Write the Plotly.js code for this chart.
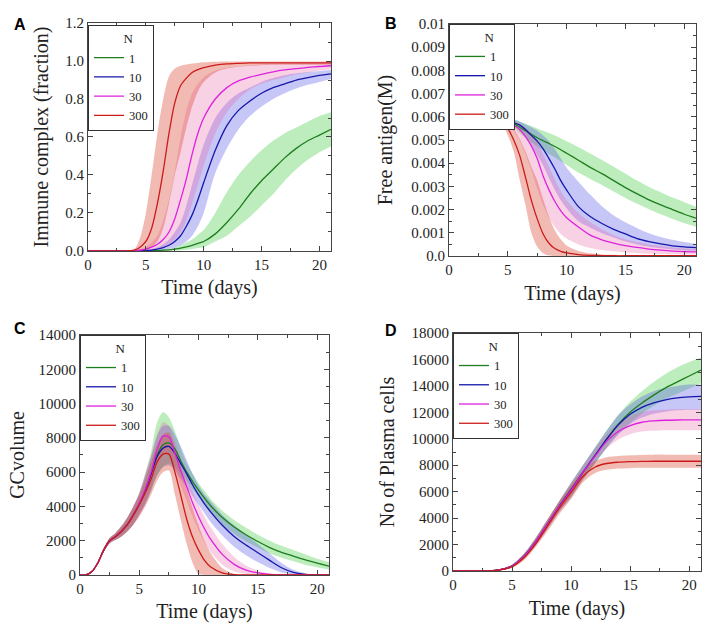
<!DOCTYPE html>
<html>
<head>
<meta charset="utf-8">
<script src="https://cdn.plot.ly/plotly-3.0.1.min.js"></script>
<style>html,body{margin:0;padding:0;background:#fff;}#chart{width:708px;height:629px;}</style>
</head>
<body>
<div id="chart"></div>
<script>
// ---------- data ----------
const N_labels = ['1', '10', '30', '300'];

// Panel A: Immune complex (fraction)
const tA = [0,1,2,3,4,4.5,5,5.5,6,6.5,7,7.5,8,8.5,9,9.5,10,11,12,13,14,15,16,17,18,19,20,21];
const A_N1 = [0,0,0,0,0,0,0.001,0.0015,0.002,0.004,0.006,0.01,0.015,0.022,0.03,0.04,0.05,0.09,0.15,0.22,0.3,0.37,0.43,0.49,0.54,0.58,0.61,0.64];
const A_N1_lo = [0,0,0,0,0,0,0,0,0,0,0.001,0.002,0.003,0.006,0.01,0.015,0.02,0.05,0.08,0.13,0.18,0.24,0.3,0.37,0.43,0.48,0.52,0.55];
const A_N1_hi = [0,0,0,0,0,0,0.002,0.003,0.005,0.007,0.01,0.018,0.03,0.045,0.06,0.085,0.11,0.2,0.31,0.4,0.47,0.53,0.58,0.62,0.65,0.68,0.71,0.73];
const A_N10 = [0,0,0,0,0.001,0.002,0.003,0.005,0.01,0.018,0.03,0.05,0.08,0.13,0.19,0.27,0.36,0.53,0.66,0.74,0.79,0.83,0.86,0.88,0.9,0.913,0.924,0.932];
const A_N10_lo = [0,0,0,0,0,0,0,0,0.002,0.005,0.01,0.018,0.03,0.05,0.08,0.13,0.2,0.41,0.54,0.64,0.71,0.76,0.8,0.83,0.855,0.875,0.89,0.905];
const A_N10_hi = [0,0,0,0,0.002,0.004,0.007,0.012,0.02,0.035,0.06,0.1,0.15,0.24,0.35,0.46,0.56,0.7,0.78,0.83,0.86,0.89,0.91,0.925,0.935,0.942,0.948,0.953];
const A_N30 = [0,0,0,0,0.002,0.005,0.01,0.02,0.035,0.06,0.1,0.17,0.27,0.38,0.51,0.62,0.7,0.8,0.86,0.895,0.915,0.93,0.943,0.953,0.96,0.966,0.971,0.975];
const A_N30_lo = [0,0,0,0,0,0,0.002,0.005,0.01,0.02,0.035,0.06,0.1,0.16,0.25,0.35,0.45,0.62,0.73,0.8,0.85,0.88,0.9,0.915,0.93,0.94,0.95,0.955];
const A_N30_hi = [0,0,0,0,0.005,0.01,0.02,0.045,0.08,0.16,0.27,0.42,0.6,0.74,0.83,0.88,0.915,0.95,0.965,0.973,0.978,0.982,0.985,0.987,0.988,0.989,0.99,0.99];
const A_N300 = [0,0,0,0,0.005,0.02,0.05,0.12,0.25,0.42,0.62,0.78,0.87,0.91,0.94,0.955,0.965,0.978,0.985,0.988,0.99,0.99,0.99,0.99,0.99,0.99,0.99,0.99];
const A_N300_lo = [0,0,0,0,0,0.002,0.005,0.02,0.05,0.12,0.25,0.4,0.52,0.65,0.76,0.84,0.89,0.94,0.96,0.97,0.975,0.978,0.98,0.98,0.98,0.98,0.98,0.98];
const A_N300_hi = [0,0,0,0,0.01,0.07,0.2,0.4,0.62,0.8,0.92,0.96,0.975,0.982,0.987,0.99,0.993,0.996,0.997,0.998,0.998,0.998,0.998,0.998,0.998,0.998,0.998,0.998];

// Panel B: Free antigen (M)
const tB = [0,1,2,3,4,4.5,5,5.5,6,6.5,7,7.5,8,8.5,9,9.5,10,11,12,13,14,15,16,17,18,19,20,21];
const B_N1 = [0.006,0.006,0.006,0.006,0.00595,0.0059,0.00585,0.00572,0.00555,0.0054,0.00525,0.0051,0.00497,0.00485,0.00472,0.00458,0.00443,0.00413,0.00382,0.00355,0.00325,0.00295,0.00268,0.00242,0.0022,0.002,0.0018,0.00163];
const B_N1_hi = [0.006,0.006,0.006,0.006,0.00599,0.00597,0.00595,0.00588,0.0058,0.0057,0.0056,0.0055,0.0054,0.0053,0.0052,0.00508,0.00495,0.0047,0.00442,0.00414,0.00385,0.00355,0.00325,0.00298,0.00275,0.00252,0.00232,0.00213];
const B_N1_lo = [0.006,0.006,0.006,0.006,0.0059,0.00582,0.00575,0.00555,0.0053,0.0051,0.0049,0.00472,0.00455,0.0044,0.00425,0.00408,0.00392,0.0036,0.00332,0.00306,0.00278,0.0025,0.00225,0.00202,0.0018,0.0016,0.00142,0.00126];
const B_N10 = [0.006,0.006,0.006,0.006,0.00597,0.00592,0.00585,0.00575,0.00565,0.00545,0.0052,0.00495,0.00462,0.0042,0.00375,0.00325,0.00284,0.00213,0.0017,0.0014,0.00115,0.00095,0.00075,0.00062,0.00052,0.00044,0.00039,0.00036];
const B_N10_hi = [0.006,0.006,0.006,0.006,0.006,0.00598,0.00595,0.00588,0.0058,0.00568,0.00555,0.0054,0.0052,0.00495,0.0046,0.0042,0.0038,0.0032,0.00265,0.00215,0.00175,0.00145,0.0012,0.00098,0.00082,0.0007,0.0006,0.00052];
const B_N10_lo = [0.006,0.006,0.006,0.006,0.00593,0.00585,0.00575,0.00562,0.00545,0.00515,0.0048,0.00435,0.0039,0.00335,0.00285,0.0024,0.00205,0.0015,0.00122,0.00098,0.0008,0.00062,0.0005,0.0004,0.00033,0.00028,0.00024,0.00022];
const B_N30 = [0.006,0.006,0.006,0.006,0.00597,0.0059,0.0058,0.00565,0.00545,0.00515,0.00475,0.0042,0.00345,0.00285,0.00235,0.00195,0.00165,0.00125,0.0009,0.0007,0.00056,0.00045,0.00037,0.0003,0.00025,0.00021,0.00019,0.00018];
const B_N30_hi = [0.006,0.006,0.006,0.006,0.006,0.00595,0.0059,0.00582,0.0057,0.00552,0.0053,0.0049,0.0044,0.00385,0.0033,0.0028,0.0024,0.00185,0.00145,0.00115,0.0009,0.00072,0.0006,0.0005,0.00043,0.00037,0.00033,0.0003];
const B_N30_lo = [0.006,0.006,0.006,0.006,0.00593,0.00582,0.00565,0.0054,0.005,0.0044,0.0037,0.0029,0.0022,0.00165,0.00125,0.00095,0.00075,0.0005,0.00035,0.00026,0.0002,0.00015,0.00012,0.0001,0.00009,0.00008,0.00007,0.00006];
const B_N300 = [0.006,0.006,0.006,0.006,0.00595,0.00585,0.0055,0.005,0.00435,0.0034,0.0024,0.0016,0.00095,0.00055,0.00032,0.0002,0.00013,0.00006,0.00003,0.00002,0.00001,0.00001,0.00001,0.00001,0.00001,0.00001,0.00001,0.00001];
const B_N300_hi = [0.006,0.006,0.006,0.006,0.006,0.00595,0.0058,0.0055,0.00505,0.0045,0.00385,0.00325,0.00245,0.0017,0.0011,0.00072,0.00045,0.00022,0.00012,0.00007,0.00005,0.00004,0.00003,0.00003,0.00003,0.00003,0.00003,0.00003];
const B_N300_lo = [0.006,0.006,0.006,0.006,0.0059,0.0057,0.0052,0.0045,0.0033,0.0022,0.001,0.0004,0.00012,0.00002,0,0,0,0,0,0,0,0,0,0,0,0,0,0];
const B_tickvals = [0,0.001,0.002,0.003,0.004,0.005,0.006,0.007,0.008,0.009,0.01];
const B_ticktext = ['0.0','0.001','0.002','0.003','0.004','0.005','0.006','0.007','0.008','0.009','0.01'];

// Panel C: GC volume
const tC = [0,0.5,1,1.5,2,2.5,3,3.5,4,4.5,5,5.5,6,6.5,7,7.5,8,8.5,9,9.5,10,10.5,11,12,13,14,15,16,17,18,19,20,21];
const C_N1 = [0,0,200,700,1450,2000,2250,2550,2950,3500,4150,4950,5950,7000,7600,7700,7350,6650,6000,5450,4950,4480,4050,3350,2800,2350,1950,1600,1320,1100,880,690,520];
const C_N1_hi = [0,0,220,750,1550,2150,2450,2850,3350,4000,4700,5900,7200,8900,9500,9200,8400,7400,6500,5900,5350,4900,4450,3750,3200,2750,2350,2000,1700,1450,1200,950,750];
const C_N1_lo = [0,0,180,650,1350,1850,2050,2250,2550,2950,3600,4200,5000,5800,6300,6500,6300,5900,5500,5000,4550,4100,3650,2950,2400,1950,1600,1250,1000,800,600,450,320];
const C_N10 = [0,0,200,700,1450,2000,2250,2550,2950,3500,4150,4900,5900,6900,7400,7500,7100,6500,5900,5250,4670,4150,3700,2900,2250,1750,1300,850,420,150,40,5,0];
const C_N10_hi = [0,0,220,750,1550,2150,2450,2850,3350,4000,4800,5800,6900,8100,8700,8700,8200,7500,6700,5900,5200,4700,4300,3500,2900,2350,1800,1250,700,300,100,20,0];
const C_N10_lo = [0,0,180,650,1350,1850,2050,2250,2550,2950,3500,4100,4900,5800,6300,6400,6100,5600,5100,4600,4100,3600,3100,2300,1650,1150,750,400,150,30,0,0,0];
const C_N30 = [0,0,200,700,1450,2000,2250,2550,2950,3500,4200,5000,6000,7300,8100,8050,7100,6100,5150,4200,3400,2700,2100,1200,620,280,120,40,10,0,0,0,0];
const C_N30_hi = [0,0,220,750,1550,2150,2450,2850,3350,4000,4800,5900,7000,8200,8900,8700,7800,6800,5800,4900,4100,3400,2800,1800,1050,550,250,100,30,0,0,0,0];
const C_N30_lo = [0,0,180,650,1350,1850,2050,2250,2550,2950,3500,4200,5000,6300,7000,7100,6200,5200,4300,3400,2600,1900,1350,600,200,60,10,0,0,0,0,0,0];
const C_N300 = [0,0,200,700,1450,2000,2250,2550,2950,3500,4100,4800,5600,6600,7050,7050,6000,4650,3250,2200,1450,850,480,120,20,0,0,0,0,0,0,0,0];
const C_N300_hi = [0,0,220,750,1550,2150,2450,2850,3350,4000,4700,5600,6600,7600,8200,8300,7500,6200,5000,3900,2900,2000,1300,400,50,0,0,0,0,0,0,0,0];
const C_N300_lo = [0,0,180,650,1350,1850,2050,2250,2550,2950,3400,4000,4700,5500,6000,6100,4700,3200,1800,700,50,0,0,0,0,0,0,0,0,0,0,0,0];

// Panel D: No of Plasma cells
const tD = [0,1,2,3,4,5,6,7,8,9,10,11,12,13,14,15,16,17,18,19,20,21];
const D_N1 = [0,0,0,10,100,380,1100,2200,3550,4900,6150,7450,8700,9950,11100,12000,12700,13300,13850,14300,14750,15200];
const D_N1_hi = [0,0,0,15,150,480,1300,2500,3900,5300,6700,8000,9300,10600,11800,12800,13600,14300,14900,15400,15800,16150];
const D_N1_lo = [0,0,0,5,60,280,900,1950,3200,4500,5600,6900,8100,9300,10400,11200,11900,12500,13000,13400,13800,14200];
const D_N10 = [0,0,0,10,100,380,1100,2200,3550,4900,6150,7450,8700,9950,11050,11850,12380,12720,12950,13100,13170,13200];
const D_N10_hi = [0,0,0,15,150,480,1300,2500,3900,5300,6700,8000,9300,10600,11800,12600,13200,13600,13850,14000,14100,14100];
const D_N10_lo = [0,0,0,5,60,280,900,1950,3200,4500,5600,6900,8100,9300,10300,11100,11600,11900,12050,12150,12200,12200];
const D_N30 = [0,0,0,10,100,380,1100,2200,3550,4900,6100,7450,8650,9800,10550,11000,11250,11350,11400,11420,11430,11430];
const D_N30_hi = [0,0,0,15,150,480,1300,2500,3900,5300,6600,7950,9200,10350,11200,11700,12000,12150,12200,12230,12250,12250];
const D_N30_lo = [0,0,0,5,60,280,900,1950,3200,4500,5600,7000,8200,9250,9950,10350,10550,10600,10650,10650,10650,10650];
const D_N300 = [0,0,0,8,80,330,1000,2050,3400,4750,5950,7150,7850,8130,8230,8270,8290,8300,8300,8300,8300,8300];
const D_N300_hi = [0,0,0,12,130,450,1250,2450,3850,5250,6500,7600,8300,8600,8700,8750,8780,8800,8800,8800,8800,8800];
const D_N300_lo = [0,0,0,4,40,230,800,1800,3000,4300,5450,6700,7400,7650,7750,7780,7800,7800,7800,7800,7800,7800];

// ---------- styling ----------
const lineColors = ['#1e7d1e', '#1616aa', '#dd22dd', '#cc1a1a'];
const bandColors = ['rgba(50,200,50,0.32)', 'rgba(70,70,230,0.30)', 'rgba(235,90,160,0.28)', 'rgba(215,60,40,0.35)'];
const SERIF = 'Liberation Serif';
const SANS = 'Liberation Sans';

const panels = [
  {xa: 'x',  ya: 'y',  lg: 'legend',  t: tA, s: [[A_N1, A_N1_lo, A_N1_hi], [A_N10, A_N10_lo, A_N10_hi], [A_N30, A_N30_lo, A_N30_hi], [A_N300, A_N300_lo, A_N300_hi]]},
  {xa: 'x2', ya: 'y2', lg: 'legend2', t: tB, s: [[B_N1, B_N1_lo, B_N1_hi], [B_N10, B_N10_lo, B_N10_hi], [B_N30, B_N30_lo, B_N30_hi], [B_N300, B_N300_lo, B_N300_hi]]},
  {xa: 'x3', ya: 'y3', lg: 'legend3', t: tC, s: [[C_N1, C_N1_lo, C_N1_hi], [C_N10, C_N10_lo, C_N10_hi], [C_N30, C_N30_lo, C_N30_hi], [C_N300, C_N300_lo, C_N300_hi]]},
  {xa: 'x4', ya: 'y4', lg: 'legend4', t: tD, s: [[D_N1, D_N1_lo, D_N1_hi], [D_N10, D_N10_lo, D_N10_hi], [D_N30, D_N30_lo, D_N30_hi], [D_N300, D_N300_lo, D_N300_hi]]}
];

const traces = [];
panels.forEach(p => {
  p.s.forEach((ser, i) => {
    traces.push({x: p.t, y: ser[1], xaxis: p.xa, yaxis: p.ya, mode: 'lines', line: {width: 0, shape: 'spline', smoothing: 0.8}, showlegend: false, hoverinfo: 'skip'});
    traces.push({x: p.t, y: ser[2], xaxis: p.xa, yaxis: p.ya, mode: 'lines', line: {width: 0, shape: 'spline', smoothing: 0.8}, fill: 'tonexty', fillcolor: bandColors[i], showlegend: false, hoverinfo: 'skip'});
  });
  p.s.forEach((ser, i) => {
    traces.push({x: p.t, y: ser[0], xaxis: p.xa, yaxis: p.ya, mode: 'lines', name: N_labels[i], legend: p.lg, line: {color: lineColors[i], width: 1.3, shape: 'spline', smoothing: 0.8}});
  });
});

function xax(domain, anchor) {
  return {domain: domain, anchor: anchor, range: [0, 21], tickvals: [0,5,10,15,20], showline: true, mirror: 'ticks', linecolor: '#444', linewidth: 1,
    ticks: 'inside', ticklen: 5, tickcolor: '#444', showgrid: false, zeroline: false,
    minor: {dtick: 2.5, ticks: 'inside', ticklen: 3, tickcolor: '#444', showgrid: false},
    tickfont: {family: SERIF, size: 15, color: '#222'},
    title: {text: 'Time (days)', font: {family: SERIF, size: 20, color: '#222'}, standoff: 8}};
}
function yax(domain, anchor, range, extra, title, standoff) {
  return Object.assign({domain: domain, anchor: anchor, range: range, showline: true, mirror: 'ticks', linecolor: '#444', linewidth: 1,
    ticks: 'inside', ticklen: 5, tickcolor: '#444', showgrid: false, zeroline: false,
    tickfont: {family: SERIF, size: 15, color: '#222'},
    title: {text: title, font: {family: SERIF, size: 20, color: '#222'}, standoff: standoff}}, extra);
}
function leg(x, y) {
  return {x: x, y: y, xanchor: 'left', yanchor: 'top', bgcolor: '#fff', bordercolor: '#333', borderwidth: 1, traceorder: 'normal',
    font: {family: SERIF, size: 12.5, color: '#222'},
    title: {text: '\u00a0\u00a0\u00a0\u00a0\u00a0\u00a0\u00a0\u00a0\u00a0\u00a0N', font: {family: SERIF, size: 13, color: '#222'}},
    itemwidth: 30, tracegroupgap: 0};
}

const layout = {
  width: 708, height: 629, margin: {l: 0, r: 0, t: 0, b: 0}, paper_bgcolor: '#fff', plot_bgcolor: '#fff', showlegend: true,
  font: {family: SERIF},
  xaxis:  xax([0.1243, 0.4675], 'y'),
  yaxis:  yax([0.6010, 0.9634], 'x', [0, 1.2], {dtick: 0.2, tickformat: '.1f', minor: {dtick: 0.1, ticks: 'inside', ticklen: 3, tickcolor: '#444'}}, 'Immune complex (fraction)', 11),
  xaxis2: xax([0.6342, 0.9831], 'y2'),
  yaxis2: yax([0.5930, 0.9618], 'x2', [0, 0.01], {tickvals: B_tickvals, ticktext: B_ticktext, minor: {dtick: 0.0005, ticks: 'inside', ticklen: 3, tickcolor: '#444'}}, 'Free antigen(M)', 13),
  xaxis3: xax([0.1130, 0.4647], 'y3'),
  yaxis3: yax([0.0859, 0.4674], 'x3', [0, 14000], {dtick: 2000, tickformat: 'd', minor: {dtick: 1000, ticks: 'inside', ticklen: 3, tickcolor: '#444'}}, 'GCvolume', 8),
  xaxis4: xax([0.6398, 0.9901], 'y4'),
  yaxis4: yax([0.0922, 0.4706], 'x4', [0, 18000], {dtick: 2000, tickformat: 'd', minor: {dtick: 1000, ticks: 'inside', ticklen: 3, tickcolor: '#444'}}, 'No of Plasma cells', 11),
  legend:  leg(0.1243, 0.960),
  legend2: leg(0.6342, 0.962),
  legend3: leg(0.1130, 0.4674),
  legend4: leg(0.6398, 0.4706),
  annotations: [
    {text: '<b>A</b>', x: 12/708, y: 1 - 14/629, xref: 'paper', yref: 'paper', showarrow: false, font: {family: SANS, size: 16, color: '#000'}},
    {text: '<b>B</b>', x: 391/708, y: 1 - 13/629, xref: 'paper', yref: 'paper', showarrow: false, font: {family: SANS, size: 16, color: '#000'}},
    {text: '<b>C</b>', x: 12/708, y: 1 - 328/629, xref: 'paper', yref: 'paper', showarrow: false, font: {family: SANS, size: 16, color: '#000'}},
    {text: '<b>D</b>', x: 391/708, y: 1 - 330/629, xref: 'paper', yref: 'paper', showarrow: false, font: {family: SANS, size: 16, color: '#000'}}
  ]
};

Plotly.newPlot('chart', traces, layout, {displayModeBar: false, staticPlot: true});
</script>
</body>
</html>
